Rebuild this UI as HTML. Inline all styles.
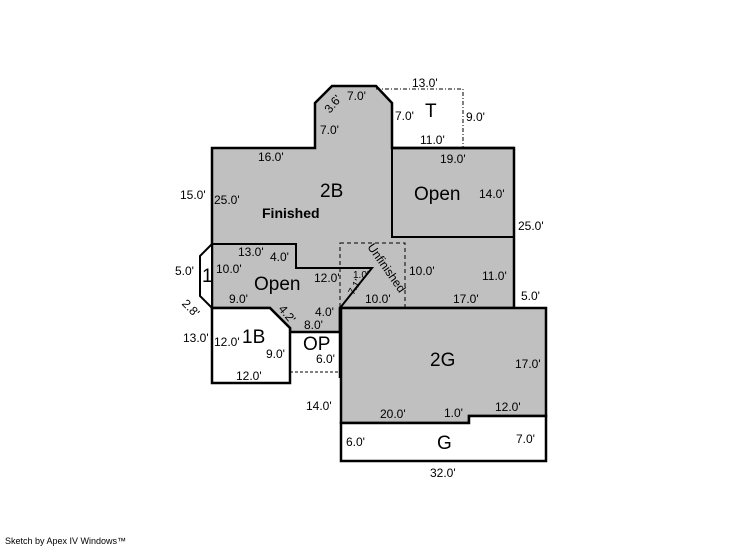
<!DOCTYPE html>
<html><head><meta charset="utf-8"><style>
body{margin:0;background:#fff}
svg text{font-family:"Liberation Sans",Arial,sans-serif;font-size:12px;fill:#000}
.b{font-size:19px}
</style></head><body>
<svg width="746" height="547" viewBox="0 0 746 547" xmlns="http://www.w3.org/2000/svg">
<polygon points="212,148 315,148 315,103 332,86 376,86 392,103 392,148 514,148 514,308 340,308 340,332 290,332 290,328 270,308 212,308" fill="#c0c0c0" stroke="#000" stroke-width="2.5"/>
<polyline points="392,103 392,237 514,237" fill="none" stroke="#000" stroke-width="2"/>
<line x1="392" y1="148" x2="514" y2="148" stroke="#000" stroke-width="2.5"/>
<polyline points="212,244 296,244 296,268 372,268 340,308" fill="none" stroke="#000" stroke-width="2"/>
<polyline points="376,89 463,89 463,148" fill="none" stroke="#000" stroke-width="1" stroke-dasharray="4,2,1,2"/>
<rect x="340" y="243" width="65" height="65" fill="none" stroke="#000" stroke-width="1" stroke-dasharray="4,3"/>
<polygon points="212,244 200,256 200,296 212,308" fill="#fff" stroke="#000" stroke-width="2"/>
<polygon points="212,308 270,308 290,328 290,383 212,383" fill="#fff" stroke="#000" stroke-width="2.5"/>
<line x1="290" y1="372" x2="340" y2="372" stroke="#000" stroke-width="1" stroke-dasharray="3,2"/>
<line x1="340" y1="308" x2="340" y2="378" stroke="#000" stroke-width="2.5"/>
<polygon points="341,308 546,308 546,416 469,416 469,423 341,423" fill="#c0c0c0" stroke="#000" stroke-width="2.5"/>
<polygon points="341,423 469,423 469,416 546,416 546,461 341,461" fill="#fff" stroke="#000" stroke-width="2.5"/>
<text x="347" y="100">7.0'</text>
<text x="322" y="111" transform="rotate(-50 329 104)">3.6'</text>
<text x="412" y="87">13.0'</text>
<text class="b" x="425" y="117">T</text>
<text x="395" y="120">7.0'</text>
<text x="466" y="121">9.0'</text>
<text x="320" y="134">7.0'</text>
<text x="420" y="144">11.0'</text>
<text x="258" y="161">16.0'</text>
<text x="440" y="163">19.0'</text>
<text class="b" x="320" y="197">2B</text>
<text x="180" y="199">15.0'</text>
<text x="214" y="204">25.0'</text>
<text x="262" y="218" style="font-weight:bold;font-size:14px">Finished</text>
<text class="b" x="414" y="200">Open</text>
<text x="479" y="198">14.0'</text>
<text x="518" y="230">25.0'</text>
<text x="238" y="256">13.0'</text>
<text x="270" y="261">4.0'</text>
<text x="175" y="275">5.0'</text>
<text class="b" x="202" y="282">1</text>
<text x="216" y="273">10.0'</text>
<text class="b" x="254" y="290">Open</text>
<text x="314" y="282">12.0'</text>
<text x="409" y="275">10.0'</text>
<text x="482" y="280">11.0'</text>
<text x="367" y="247" transform="rotate(55 367 247)">Unfinished</text>
<text x="348" y="294" transform="rotate(-60 352 290)" style="font-size:10px">7.1'</text>
<text x="353" y="278" style="font-size:10px">1.0'</text>
<text x="229" y="303">9.0'</text>
<text x="365" y="303">10.0'</text>
<text x="453" y="303">17.0'</text>
<text x="521" y="300">5.0'</text>
<text x="183" y="310" transform="rotate(45 189 305)">2.8'</text>
<text x="272" y="314" transform="rotate(50 280 318)">4.2'</text>
<text x="315" y="316">4.0'</text>
<text x="304" y="329">8.0'</text>
<text x="183" y="342">13.0'</text>
<text x="214" y="346">12.0'</text>
<text class="b" x="242" y="343">1B</text>
<text class="b" x="303" y="350">OP</text>
<text x="266" y="358">9.0'</text>
<text x="316" y="363">6.0'</text>
<text class="b" x="430" y="366">2G</text>
<text x="515" y="368">17.0'</text>
<text x="236" y="380">12.0'</text>
<text x="306" y="410">14.0'</text>
<text x="380" y="418">20.0'</text>
<text x="444" y="417">1.0'</text>
<text x="495" y="411">12.0'</text>
<text x="346" y="446">6.0'</text>
<text class="b" x="437" y="449">G</text>
<text x="516" y="443">7.0'</text>
<text x="430" y="477">32.0'</text>
<text x="5" y="544" style="font-size:9px">Sketch by Apex IV Windows™</text>
</svg>
</body></html>
